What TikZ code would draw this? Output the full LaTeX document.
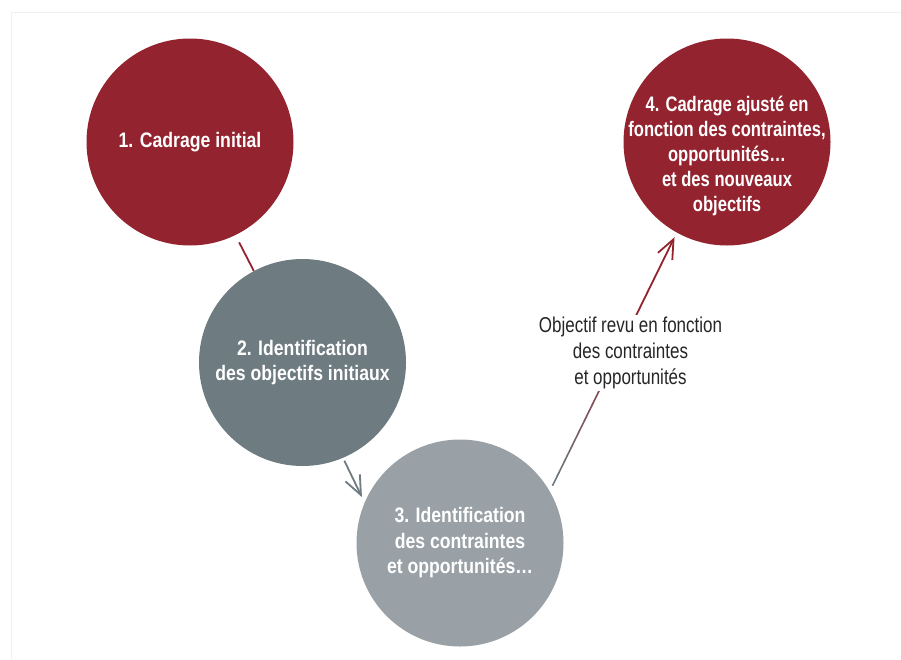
\documentclass[tikz,border=0pt]{standalone}
\usepackage{fontspec}
\setmainfont{Liberation Sans}
\newfontfamily\condfont{Liberation Sans}[FakeStretch=0.84]
\newfontfamily\condfontb{Liberation Sans}[FakeStretch=0.79]
\newfontfamily\labfont{Liberation Sans}[FakeStretch=0.79]
\usetikzlibrary{arrows.meta,calc}
\definecolor{cred}{HTML}{93232F}
\definecolor{cdark}{HTML}{6E7B80}
\definecolor{clight}{HTML}{99A1A6}
\definecolor{cframe}{HTML}{F0F0F0}
\definecolor{ctext}{HTML}{262626}
\begin{document}
\begin{tikzpicture}[x=1pt,y=-1pt,
  bubble/.style={circle,minimum size=207pt,inner sep=0pt,align=center,text=white,
    font=\condfont\bfseries\fontsize{21}{25.5}\selectfont},
  bubtext/.style={align=center,text=white,inner sep=0pt,
    font=\condfontb\bfseries\fontsize{21}{25}\selectfont},
  labeltext/.style={align=center,text=ctext,fill=white,inner sep=2pt,
    font=\labfont\fontsize{21.5}{26}\selectfont},
  link/.style={line width=1.8pt},
  tip/.style={-{Straight Barb[length=19pt,width=16pt]}}]
\useasboundingbox (0,0) rectangle (901,659);
\draw[cframe,line width=1pt] (901,12.5) -- (11.5,12.5) -- (11.5,659);
% circles
\node[bubble,fill=cred] (c1) at (190,142) {1. Cadrage initial};
\node[bubble,fill=cdark] (c2) at (302.5,362.5) {2. Identification\\des objectifs initiaux};
\node[bubble,fill=clight] (c3) at (460,543) {3. Identification\\des contraintes\\et opportunités…};
\node[bubble,fill=cred] (c4) at (727,142) {};
\node[bubtext] (t4) at (727,156) {4. Cadrage ajusté en\\fonction des contraintes,\\opportunités…\\et des nouveaux\\objectifs};
% connectors
\draw[link,cred,shorten <=8pt] (c1.-64.6) -- (c2.118.8);
\draw[link,cdark,tip,shorten <=3pt,shorten >=6pt] (c2.-67.6) -- (c3.157);
\coordinate (s) at ($(c3.30.8)!6pt!(c4.241.6)$);
\coordinate (e) at ($(c4.241.6)!5pt!(c3.30.8)$);
\draw[link,cred,tip] ($(s)!0.44!(e)$) -- (e);
\foreach \i in {0,...,21}{
  \pgfmathsetmacro\ta{\i*0.02}
  \pgfmathsetmacro\tb{\i*0.02+0.021}
  \pgfmathtruncatemacro\p{\i*3.2}
  \colorlet{segc}{cred!\p!cdark}
  \draw[line width=1.6pt,segc] ($(s)!\ta!(e)$) -- ($(s)!\tb!(e)$);
}
\node[labeltext] (lab) at (630.5,353) {Objectif revu en fonction\\des contraintes\\et opportunités};
\end{tikzpicture}
\end{document}
